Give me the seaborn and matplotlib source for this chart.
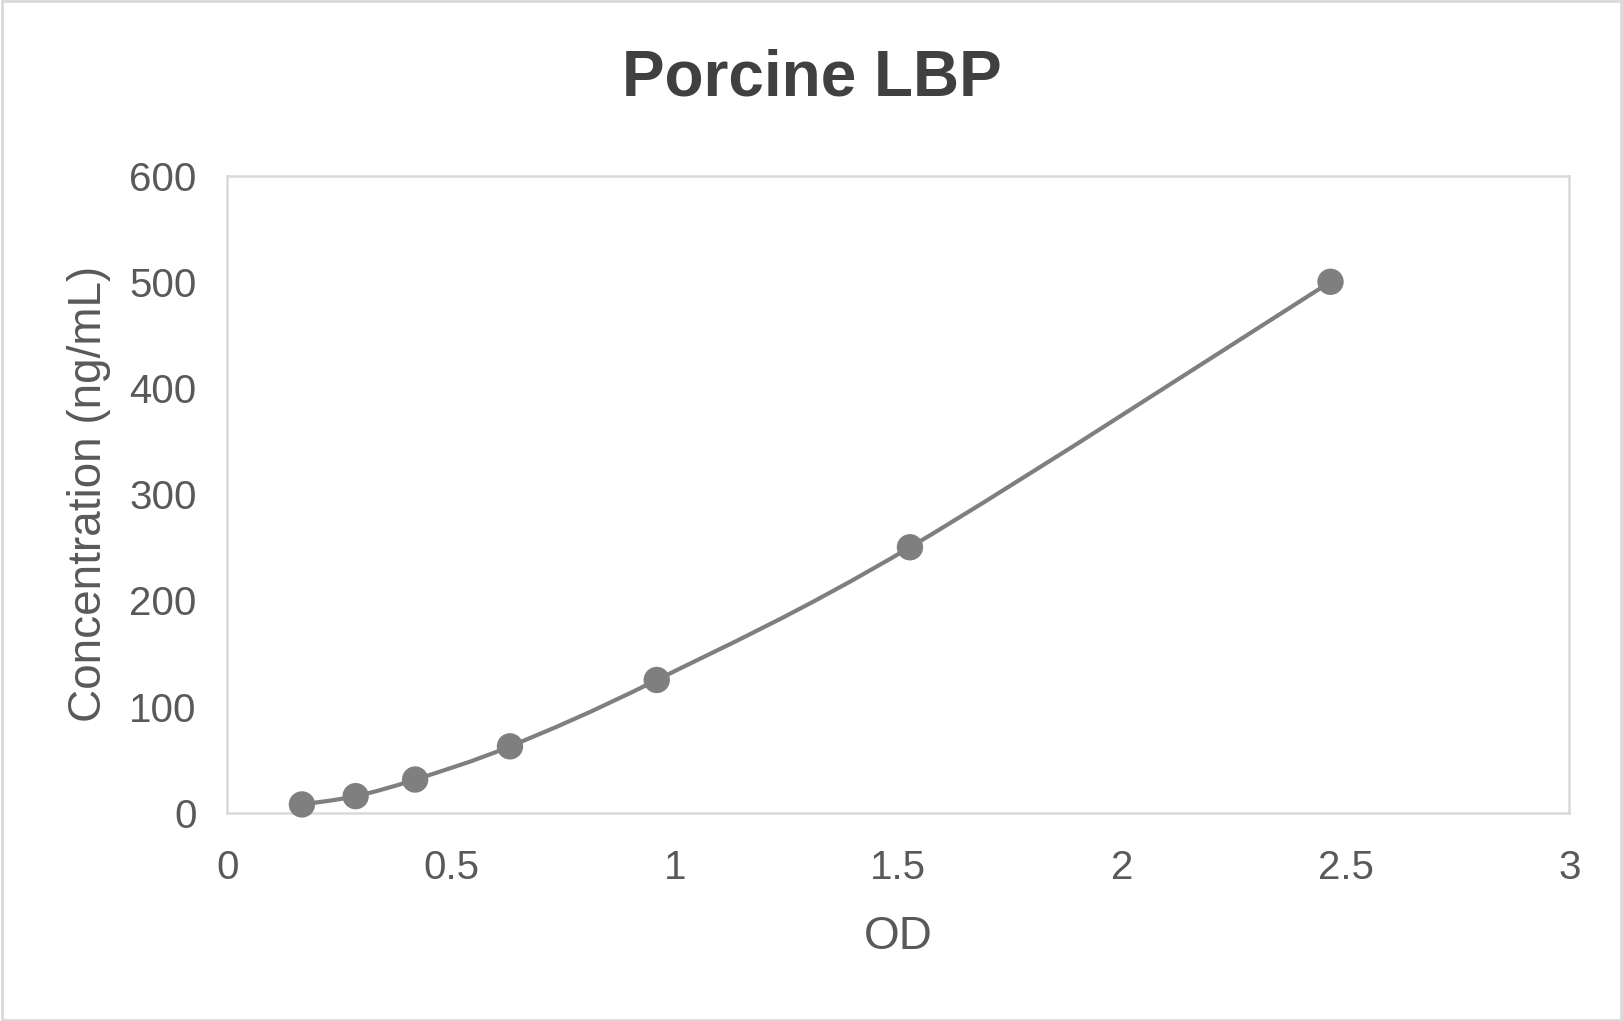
import numpy as np
import matplotlib
matplotlib.use('Agg')
import matplotlib.pyplot as plt
from matplotlib.path import Path
from matplotlib.patches import PathPatch, Rectangle
import seaborn as sns
import pandas as pd

# standard curve values
od = [0.167, 0.287, 0.420, 0.632, 0.960, 1.526, 2.466]
conc = [7.8, 15.6, 31.25, 62.5, 125, 250, 500]
x_ticks = [0, 0.5, 1, 1.5, 2, 2.5, 3]
x_tick_labels = ['0', '0.5', '1', '1.5', '2', '2.5', '3']
y_ticks = [0, 100, 200, 300, 400, 500, 600]

sns.set_theme(style='white')
plt.rcParams['font.family'] = ['Liberation Sans', 'DejaVu Sans']

df = pd.DataFrame({'OD': od, 'conc': conc})

grey = '#7f7f7f'
text_col = '#595959'

fig = plt.figure(figsize=(16.23, 10.21), dpi=100)
ax = fig.add_axes([0.140, 0.204, 0.827, 0.624])

# smoothed line (Catmull-Rom style bezier through the points, like Excel's smooth line)
pts = np.column_stack([od, conc])
ext = np.vstack([pts[0], pts, pts[-1]])
verts = [tuple(pts[0])]
codes = [Path.MOVETO]
for i in range(1, len(ext) - 2):
    p0, p1, p2, p3 = ext[i - 1], ext[i], ext[i + 1], ext[i + 2]
    c1 = p1 + (p2 - p0) / 6.0
    c2 = p2 - (p3 - p1) / 6.0
    verts += [tuple(c1), tuple(c2), tuple(p2)]
    codes += [Path.CURVE4] * 3
ax.add_patch(PathPatch(Path(verts, codes), facecolor='none', edgecolor=grey,
                       lw=3.0, capstyle='round', zorder=2))

sns.scatterplot(data=df, x='OD', y='conc', s=360, color=grey, edgecolor='none',
                ax=ax, zorder=3, clip_on=False)

ax.set_xlim(0, 3)
ax.set_ylim(0, 600)
ax.set_xticks(x_ticks)
ax.set_xticklabels(x_tick_labels)
ax.set_yticks(y_ticks)
ax.tick_params(axis='both', length=0, labelsize=29, labelcolor=text_col)
ax.tick_params(axis='x', pad=26)
ax.tick_params(axis='y', pad=22)

for sp in ax.spines.values():
    sp.set_color('#d9d9d9')
    sp.set_linewidth(1.8)

ax.set_xlabel('OD', fontsize=33, color=text_col, labelpad=20)
ax.set_ylabel('Concentration (ng/mL)', fontsize=33, color=text_col, labelpad=13)

fig.text(0.5, 0.906, 'Porcine LBP', ha='center', va='baseline', fontsize=46,
         fontweight='bold', color='#404040')

# outer chart border
fig.patches.append(Rectangle((0.001, 0.001), 0.998, 0.998, transform=fig.transFigure,
                             fill=False, edgecolor='#d9d9d9', lw=2))

fig.savefig('out.png', dpi=100)
plt.close(fig)
